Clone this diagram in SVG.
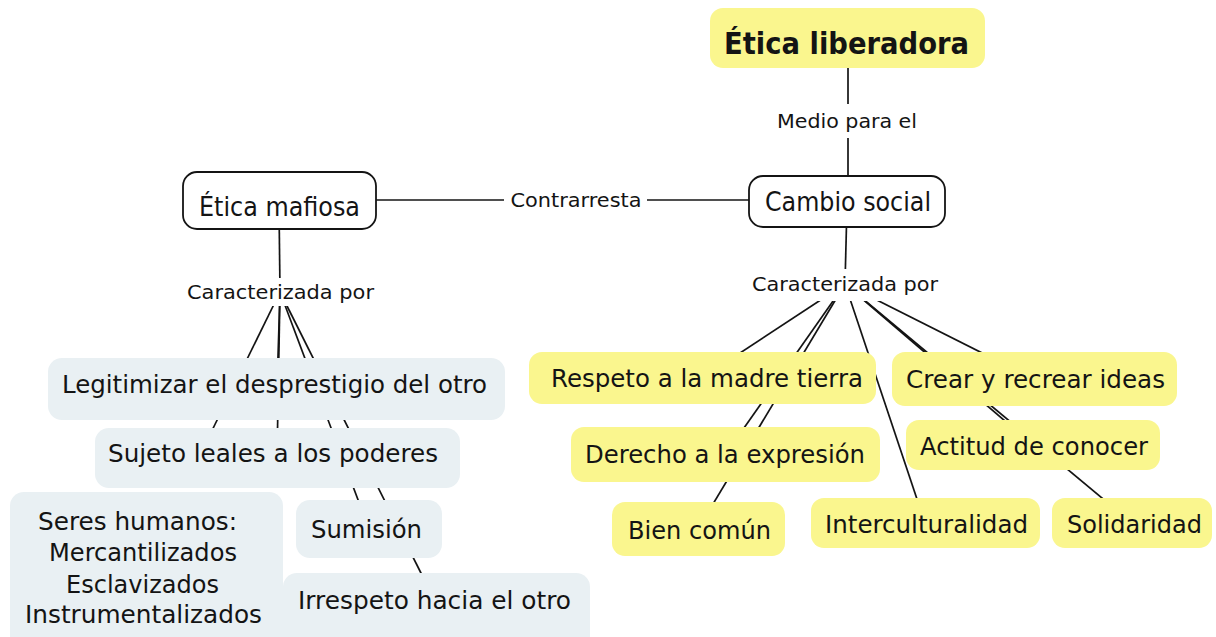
<svg xmlns="http://www.w3.org/2000/svg" width="1216" height="637" viewBox="0 0 1216 637">
<style>
text{font-family:"DejaVu Sans","Liberation Sans",sans-serif;fill:#141414;dominant-baseline:central;text-anchor:middle}
.t{font-size:25px}
.tb{font-size:26px}
.lbl{font-size:20px}
.ttl{font-size:30px;font-weight:bold}
.y{fill:#faf68e}
.b{fill:#e9f0f3}
.w{fill:#fff;stroke:#141414;stroke-width:1.8}
.bg{fill:#fff}
#connectors line{stroke:#141414;stroke-width:1.7}
</style>
<rect width="1216" height="637" fill="#fff"/>
<g id="connectors">
<line x1="848" y1="40" x2="848" y2="202"/>
<line x1="279" y1="200" x2="847" y2="200"/>
<line x1="279" y1="205" x2="280" y2="292"/>
<line x1="847" y1="205" x2="845" y2="284"/>
<line x1="280" y1="292" x2="277" y2="389"/>
<line x1="280" y1="292" x2="277" y2="458"/>
<line x1="280" y1="292" x2="192.6" y2="470"/>
<line x1="280" y1="292" x2="369" y2="529"/>
<line x1="280" y1="292" x2="437" y2="605"/>
<line x1="845" y1="284" x2="702" y2="378"/>
<line x1="845" y1="284" x2="725" y2="455"/>
<line x1="845" y1="284" x2="698" y2="529"/>
<line x1="845" y1="284" x2="925" y2="523"/>
<line x1="845" y1="284" x2="1034" y2="379"/>
<line x1="845" y1="284" x2="1033" y2="445"/>
<line x1="845" y1="284" x2="1132" y2="523"/>
</g>
<g id="lbl-medio"><rect class="bg" x="770" y="104" width="154" height="34"/><text class="lbl" x="847" y="121" textLength="140" lengthAdjust="spacingAndGlyphs">Medio para el</text></g>
<g id="lbl-contrarresta"><rect class="bg" x="504" y="184" width="143" height="32"/><text class="lbl" x="576" y="200" textLength="131" lengthAdjust="spacingAndGlyphs">Contrarresta</text></g>
<g id="lbl-caract-left"><rect class="bg" x="182" y="278" width="197" height="28"/><text class="lbl" x="280.5" y="292" textLength="187" lengthAdjust="spacingAndGlyphs">Caracterizada por</text></g>
<g id="lbl-caract-right"><rect class="bg" x="747" y="269" width="196" height="32"/><text class="lbl" x="845" y="284" textLength="186" lengthAdjust="spacingAndGlyphs">Caracterizada por</text></g>
<g id="n-etica-liberadora"><rect class="y" x="710" y="8" width="275" height="60" rx="13"/><text class="ttl" x="846.5" y="43" textLength="245" lengthAdjust="spacingAndGlyphs">Ética liberadora</text></g>
<g id="n-cambio-social"><rect class="w" x="749" y="176" width="196" height="51" rx="14"/><text class="tb" x="848" y="202" textLength="166" lengthAdjust="spacingAndGlyphs">Cambio social</text></g>
<g id="n-etica-mafiosa"><rect class="w" x="183" y="172" width="193" height="57" rx="14"/><text class="tb" x="279.5" y="207" textLength="161" lengthAdjust="spacingAndGlyphs">Ética mafiosa</text></g>
<g id="n-legitimizar"><rect class="b" x="48" y="358" width="457" height="62" rx="14"/><text class="t" x="274.5" y="384" textLength="425" lengthAdjust="spacingAndGlyphs">Legitimizar el desprestigio del otro</text></g>
<g id="n-sujeto"><rect class="b" x="95" y="428" width="365" height="60" rx="14"/><text class="t" x="273" y="453" textLength="330" lengthAdjust="spacingAndGlyphs">Sujeto leales a los poderes</text></g>
<g id="n-seres"><rect class="b" x="10" y="492" width="273" height="160" rx="14"/>
<text class="t" x="137.5" y="521" textLength="199" lengthAdjust="spacingAndGlyphs">Seres humanos:</text>
<text class="t" x="143" y="552" textLength="188" lengthAdjust="spacingAndGlyphs">Mercantilizados</text>
<text class="t" x="142.5" y="584" textLength="153" lengthAdjust="spacingAndGlyphs">Esclavizados</text>
<text class="t" x="143.5" y="614" textLength="237" lengthAdjust="spacingAndGlyphs">Instrumentalizados</text></g>
<g id="n-sumision"><rect class="b" x="296" y="500" width="146" height="58" rx="14"/><text class="t" x="366.5" y="529" textLength="111" lengthAdjust="spacingAndGlyphs">Sumisión</text></g>
<g id="n-irrespeto"><rect class="b" x="283" y="573" width="307" height="80" rx="14"/><text class="t" x="434.5" y="600" textLength="273" lengthAdjust="spacingAndGlyphs">Irrespeto hacia el otro</text></g>
<g id="n-respeto"><rect class="y" x="529" y="352" width="347" height="52" rx="13"/><text class="t" x="707" y="378" textLength="312" lengthAdjust="spacingAndGlyphs">Respeto a la madre tierra</text></g>
<g id="n-derecho"><rect class="y" x="571" y="427" width="309" height="55" rx="13"/><text class="t" x="725" y="454" textLength="280" lengthAdjust="spacingAndGlyphs">Derecho a la expresión</text></g>
<g id="n-bien-comun"><rect class="y" x="612" y="502" width="173" height="54" rx="13"/><text class="t" x="699.5" y="530" textLength="143" lengthAdjust="spacingAndGlyphs">Bien común</text></g>
<g id="n-interculturalidad"><rect class="y" x="811" y="498" width="229" height="50" rx="13"/><text class="t" x="926.5" y="524" textLength="203" lengthAdjust="spacingAndGlyphs">Interculturalidad</text></g>
<g id="n-crear"><rect class="y" x="892" y="352" width="285" height="54" rx="13"/><text class="t" x="1035.5" y="379" textLength="259" lengthAdjust="spacingAndGlyphs">Crear y recrear ideas</text></g>
<g id="n-actitud"><rect class="y" x="906" y="420" width="254" height="50" rx="13"/><text class="t" x="1034" y="446" textLength="228" lengthAdjust="spacingAndGlyphs">Actitud de conocer</text></g>
<g id="n-solidaridad"><rect class="y" x="1052" y="498" width="160" height="50" rx="13"/><text class="t" x="1134.5" y="524" textLength="135" lengthAdjust="spacingAndGlyphs">Solidaridad</text></g>
</svg>
